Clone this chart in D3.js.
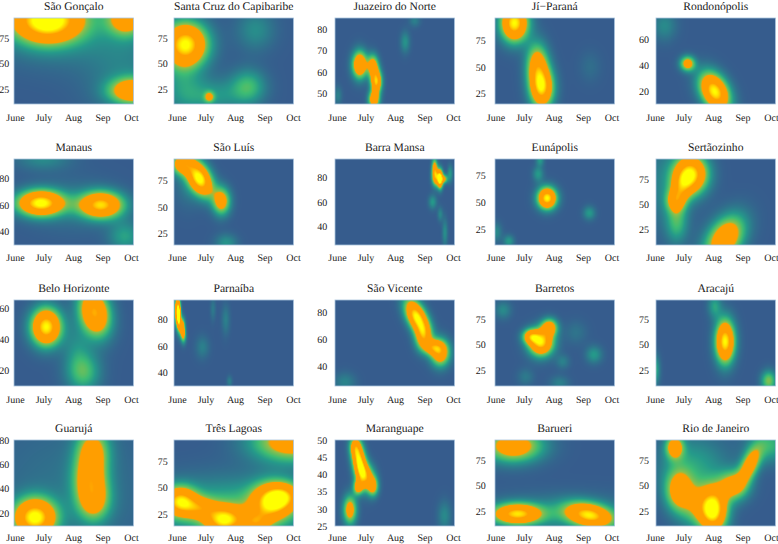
<!DOCTYPE html>
<html lang="pt">
<meta charset="utf-8">
<title>Density by city</title>
<style>
  html, body { margin: 0; background: #fff; }
  svg { display: block; }
  text { font-family: "Liberation Serif", "DejaVu Serif", serif; fill: #1a1a1a; text-rendering: geometricPrecision; }
</style>
<svg id="chart" width="778" height="544"></svg>
<script src="https://d3js.org/d3.v7.min.js"></script>
<script>
// city names, read row by row
var cities = [
  "São Gonçalo", "Santa Cruz do Capibaribe", "Juazeiro do Norte", "Jí−Paraná", "Rondonópolis",
  "Manaus", "São Luís", "Barra Mansa", "Eunápolis", "Sertãozinho",
  "Belo Horizonte", "Parnaíba", "São Vicente", "Barretos", "Aracajú",
  "Guarujá", "Três Lagoas", "Maranguape", "Barueri", "Rio de Janeiro"
];

var monthLabels = ["June", "July", "Aug", "Sep", "Oct"];
var monthDays = [0, 30, 61, 92, 122];   // days since 1 June

// value range of each panel
var valueRanges = [
  [10, 95], [10, 95], [45, 85.3], [15, 96], [10, 76],
  [29.5, 95], [14, 95.6], [25, 95], [10, 90], [9.5, 95],
  [10, 65], [29.5, 95], [25, 89.6], [9, 94], [9, 94],
  [9.4, 80], [14, 95], [25, 50], [10, 95], [10, 95]
];

var valueTicks = [
  [25, 50, 75], [25, 50, 75], [50, 60, 70, 80], [25, 50, 75], [20, 40, 60],
  [40, 60, 80], [25, 50, 75], [40, 60, 80], [25, 50, 75], [25, 50, 75],
  [20, 40, 60], [40, 60, 80], [40, 60, 80], [25, 50, 75], [25, 50, 75],
  [20, 40, 60, 80], [25, 50, 75], [25, 30, 35, 40, 45, 50], [25, 50, 75], [25, 50, 75]
];

// density peaks per panel: day since 1 June, value, height, spread in days, spread in value, tilt
var peaks = [
  [[34, 93, 1, 25, 15, 0], [118, 95, .62, 14, 12, 0], [124, 23, .68, 17, 9, 0], [40, 90, .2, 40, 25, 0], [115, 50, .12, 30, 35, 0]],
  [[9, 69, 1, 16, 15, 0], [34, 17, .4, 3.5, 3.5, 0], [35, 18, .2, 22, 12, 0], [75, 27, .3, 13, 12, 0], [83, 83, .16, 14, 14, 0], [5, 30, .16, 15, 20, 0]],
  [[24, 63.4, .8, 5.5, 4.4, 0], [38, 63, .58, 4, 3.6, 0], [41.5, 55.5, .88, 4, 3.8, 0], [39, 47, .7, 4, 2.8, 0], [72, 74, .18, 3.5, 3.5, 0], [82, 84, .12, 4, 2, 0], [1, 49, .12, 3, 3, 0]],
  [[20, 91.3, 1, 10, 12, 0], [44, 52, .6, 8, 14, 0], [49, 30, .88, 8.5, 13, 0], [100, 50, .06, 8, 10, 0]],
  [[34.4, 41, .6, 5.5, 4, 0], [63, 19.6, 1, 11, 10, -.35], [10, 70, .15, 9, 8, 0]],
  [[27, 61.4, 1, 17, 6.7, 0], [91, 60, .9, 16, 7, 0], [30, 95, .15, 20, 6, 0], [116, 36, .22, 12, 8, 0], [60, 60, .08, 30, 14, 0]],
  [[5, 91, .6, 8, 7, 0], [24, 77, 1, 9.5, 11.5, -.4], [47, 55.6, .6, 6.5, 9, 0], [52, 16, .18, 8, 6, 0], [12, 72, .1, 10, 15, 0]],
  [[103, 87, .6, 2, 6, 0], [109, 78.7, 1, 2, 5, 0], [105, 80, .62, 3, 5, 0], [113.5, 78.7, .45, 2.5, 2.5, 0], [119.5, 83, .2, 2, 5, 0], [101, 60, .2, 3, 4, 0], [109, 50, .15, 2, 4, 0], [114, 35, .17, 2, 8, 0]],
  [[54.5, 53.6, 1, 7, 7, 0], [45, 76, .2, 4, 5, 0], [47, 89, .2, 3, 4, 0], [99, 39.7, .2, 4.5, 4.5, 0], [1, 22, .15, 4, 6, 0], [14, 13.6, .2, 4, 4, 0]],
  [[38, 80, .95, 12, 13, 0], [28, 68, .35, 8, 10, 0], [22, 53.6, .5, 7, 8, 0], [23, 32, .28, 8, 14, 0], [73.6, 15.6, .72, 14.5, 16, .4], [10, 70, .12, 20, 30, 0]],
  [[33, 47.8, 1, 11, 8.2, 0], [84, 57, .85, 11.5, 10.5, -.2], [72, 19, .33, 12.5, 9, 0], [65, 35, .12, 10, 10, 0]],
  [[0, 87, .7, 2, 8, 0], [2, 83, .9, 1.5, 7, 0], [5.6, 74, .7, 2, 5, 0], [7, 67, .3, 2, 4, 0], [38, 88, .1, 2, 6, 0], [51.5, 80, .12, 3, 8, 0], [27, 59, .12, 5, 6, 0], [55.4, 33, .12, 2, 3, 0]],
  [[84, 77, 1, 8.5, 9, -.5], [91, 62, .6, 6, 7, 0], [101, 54, .45, 7, 4, 0], [109, 50, .7, 7, 7, 0], [8.4, 28, .13, 8, 5, 0]],
  [[48, 52, .95, 9, 9, 0], [37, 58, .55, 6, 5, 0], [57, 67, .62, 6, 6, 0], [8, 84, .15, 6, 6, 0], [104, 40, .2, 6, 6, 0], [71, 33, .12, 5, 5, 0], [67.5, 12, .12, 7, 5, 0], [32, 18, .1, 6, 6, 0], [85, 62, .08, 8, 8, 0]],
  [[74, 53, 1, 7, 14.5, 0], [63, 88, .22, 5, 8, 0], [0, 25, .28, 3.5, 10, 0], [120, 14, .4, 5.5, 7, 0]],
  [[21, 16.4, 1, 15.5, 10.8, 0], [82, 72, .5, 12, 13, 0], [79, 49, .5, 12, 13, 0], [83, 30, .5, 12, 12, 0], [60, 40, .08, 60, 40, 0]],
  [[3, 37.5, .78, 12, 9.5, 0], [50, 19.5, .78, 14, 9, 0], [99, 37, .78, 14, 12, 0], [24, 31, .4, 12, 7, 0], [115, 42, .5, 12, 9, 0], [83, 17, .45, 10, 7, 0], [121, 93, .62, 29, 13, 0], [60, 30, .3, 60, 20, 0]],
  [[23.5, 43.6, 1, 5.5, 4.2, -.4], [19, 48, .3, 4, 1.8, 0], [38, 36.5, .55, 4, 2, 0], [22, 36.2, .5, 3.5, 1.5, 0], [31, 39.5, .5, 6, 2.5, 0], [13.7, 29.7, .6, 5, 2.9, 0], [113.5, 28, .15, 5, 3, 0]],
  [[19, 89, .65, 21, 11, 0], [23, 22, .85, 17.5, 7, 0], [99, 20.7, .85, 17.5, 8.5, -.3], [70, 22, .15, 60, 13, 0]],
  [[20.7, 88, .6, 6.5, 8, 0], [25, 45, .55, 10, 14, 0], [47, 30, .4, 14, 15, 0], [62, 25.5, .9, 10, 15, 0], [83, 50, .55, 11, 10, 0], [100, 70, .6, 8, 12, .5], [40, 70, .22, 25, 20, 0], [120, 90, .28, 15, 12, 0]]
];

// colour ramp of the density field
var rampStops = [0, .1, .2, .3, .42, .46, .82, 1];
var rampColors = ["#365c8d", "#2d7a8c", "#259a8a", "#3dbc74", "#8dc04a", "#ff9e00", "#ff9e00", "#ffff00"];

var svg = d3.select("#chart");
var ncol = 5;
var colLeft = [14, 174, 335, 495, 656];
var colJune = [1, 3, 2, .5, -1];         // where the June tick sits inside the panel
var colLabelGap = [4.7, 6.3, 7.7, 9.3, 7];
var rowTop = [18, 159, 300, 440];
var rowLabelDrop = [10, 9, 9.5, 8];
var panelW = 119.5, panelH = 86;
var pxPerDay = 29 / 30.5;

var color = d3.scaleLinear().domain(rampStops).range(rampColors).clamp(true);

function density(list, day, value) {
  return d3.sum(list, function (p) {
    var a = (day - p[0]) / p[3], b = (value - p[1]) / p[4], r = p[5];
    return p[2] * Math.exp(-(a * a - 2 * r * a * b + b * b) / (2 * (1 - r * r)));
  });
}

function fieldImage(list, x, y) {
  var canvas = document.createElement("canvas");
  canvas.width = Math.round(panelW);
  canvas.height = panelH;
  var ctx = canvas.getContext("2d");
  d3.range(canvas.width).forEach(function (i) {
    d3.range(canvas.height).forEach(function (j) {
      ctx.fillStyle = color(density(list, x.invert(i + .5), y.invert(j + .5)));
      ctx.fillRect(i, j, 1, 1);
    });
  });
  return canvas.toDataURL();
}

cities.forEach(function (city, n) {
  var col = n % ncol, row = Math.floor(n / ncol);
  var g = svg.append("g").attr("transform", "translate(" + colLeft[col] + "," + rowTop[row] + ")");

  var dayStart = -colJune[col] / pxPerDay;
  var x = d3.scaleLinear().domain([dayStart, dayStart + panelW / pxPerDay]).range([0, panelW]);
  var y = d3.scaleLinear().domain(valueRanges[n]).range([panelH, 0]);

  g.append("image")
    .attr("width", panelW).attr("height", panelH)
    .attr("preserveAspectRatio", "none")
    .attr("href", fieldImage(peaks[n], x, y));

  g.append("rect")
    .attr("width", panelW).attr("height", panelH)
    .attr("fill", "none").attr("stroke", "#a9c3dc").attr("stroke-width", .8);

  g.append("text")
    .attr("x", panelW / 2).attr("y", -8)
    .attr("text-anchor", "middle").attr("font-size", 11.6)
    .text(city);

  var xAxis = d3.axisBottom(x).tickValues(monthDays).tickSize(0).tickPadding(0)
    .tickFormat(function (d, i) { return monthLabels[i]; });
  var gx = g.append("g").attr("transform", "translate(0," + (panelH + rowLabelDrop[row]) + ")").call(xAxis);
  gx.select(".domain").remove();
  gx.selectAll("text").attr("font-size", 10).style("font-family", '"Liberation Serif"');

  var yAxis = d3.axisLeft(y).tickValues(valueTicks[n]).tickSize(0).tickPadding(colLabelGap[col]);
  var gy = g.append("g").call(yAxis);
  gy.select(".domain").remove();
  gy.selectAll("text").attr("font-size", 10).style("font-family", '"Liberation Serif"');
});
</script>
</html>
